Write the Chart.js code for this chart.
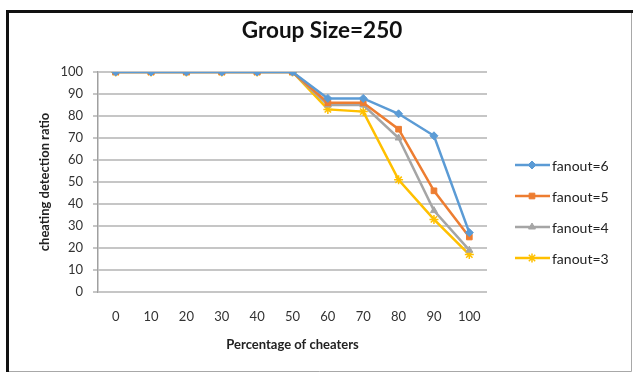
<!DOCTYPE html>
<html>
<head>
<meta charset="utf-8">
<script src="https://cdn.jsdelivr.net/npm/chart.js@4"></script>
<style>
  html, body { margin: 0; padding: 0; background: #fff; }
  #wrap { width: 633px; height: 372px; position: relative; }
</style>
</head>
<body>
<div id="wrap"><canvas id="c" width="633" height="372"></canvas></div>
<script>
// Percentage of cheaters (x axis categories)
const categories = ['0', '10', '20', '30', '40', '50', '60', '70', '80', '90', '100'];
// Cheating detection ratio for each fanout
const fanout6 = [100, 100, 100, 100, 100, 100, 88, 88, 81, 71, 27];
const fanout5 = [100, 100, 100, 100, 100, 100, 86, 86, 74, 46, 25];
const fanout4 = [100, 100, 100, 100, 100, 100, 85, 85, 70, 37, 19];
const fanout3 = [100, 100, 100, 100, 100, 100, 83, 82, 51, 33, 17];
const seriesNames = ['fanout=6', 'fanout=5', 'fanout=4', 'fanout=3'];
const yTicks = [0, 10, 20, 30, 40, 50, 60, 70, 80, 90, 100];

const chartTitle = 'Group Size=250';
const FONT = 'Lato, "Open Sans", sans-serif';

const colors = ['#5B9BD5', '#ED7D31', '#A5A5A5', '#FFC000'];
const markers = ['rectRot', 'rect', 'triangle', 'star'];
const markerSizes = [4, 4, 4, 4.5];

const datasets = [fanout6, fanout5, fanout4, fanout3].map((vals, i) => ({
  label: seriesNames[i],
  data: vals,
  borderColor: colors[i],
  backgroundColor: colors[i],
  borderWidth: 2.5,
  pointStyle: markers[i],
  pointRadius: markerSizes[i],
  pointBorderWidth: i === 3 ? 1.5 : 1,
  pointBackgroundColor: colors[i],
  pointBorderColor: colors[i],
  tension: 0,
  fill: false
}));

// Frame, title and a line+marker legend drawn on the canvas
const decorations = {
  id: 'decorations',
  beforeDraw(chart) {
    const ctx = chart.ctx;
    ctx.save();
    ctx.fillStyle = '#fff';
    ctx.fillRect(0, 0, chart.width, chart.height);
    ctx.restore();
  },
  afterDraw(chart) {
    const ctx = chart.ctx;
    ctx.save();
    // outer frame
    ctx.strokeStyle = '#a8a8a8';
    ctx.lineWidth = 1;
    ctx.beginPath();
    ctx.moveTo(7, 371.5); ctx.lineTo(631.5, 371.5); ctx.lineTo(631.5, 11);
    ctx.stroke();
    ctx.strokeStyle = '#111';
    ctx.lineWidth = 3;
    ctx.beginPath();
    ctx.moveTo(7.5, 372); ctx.lineTo(7.5, 11.5); ctx.lineTo(633, 11.5);
    ctx.stroke();

    // title
    ctx.fillStyle = '#111';
    ctx.font = 'bold 22.5px ' + FONT;
    ctx.textAlign = 'center';
    ctx.textBaseline = 'middle';
    ctx.fillText(chartTitle, 322, 31);

    // legend
    ctx.font = '14px ' + FONT;
    ctx.textAlign = 'left';
    chart.data.datasets.forEach((ds, i) => {
      const y = 165 + i * 31;
      ctx.strokeStyle = ds.borderColor;
      ctx.lineWidth = 2.5;
      ctx.beginPath();
      ctx.moveTo(515, y); ctx.lineTo(550, y);
      ctx.stroke();
      ctx.fillStyle = ds.borderColor;
      ctx.strokeStyle = ds.borderColor;
      ctx.lineWidth = ds.pointBorderWidth;
      Chart.helpers.drawPoint(ctx, {
        pointStyle: ds.pointStyle,
        radius: ds.pointRadius,
        borderWidth: ds.pointBorderWidth,
        rotation: 0
      }, 532, y);
      ctx.fillStyle = '#222';
      ctx.fillText(ds.label, 552, y + 1);
    });
    ctx.restore();
  }
};

new Chart(document.getElementById('c'), {
  type: 'line',
  data: { labels: categories, datasets },
  options: {
    responsive: false,
    animation: false,
    layout: { padding: { top: 72, left: 0, right: 146, bottom: 0 } },
    plugins: {
      legend: { display: false },
      title: { display: false },
      tooltip: { enabled: false }
    },
    scales: {
      x: {
        offset: true,
        grid: { display: false, offset: true },
        border: { display: false },
        ticks: {
          color: '#333',
          font: { family: FONT, size: 13 },
          padding: 9,
          maxRotation: 0,
          autoSkip: false
        },
        title: {
          display: true,
          text: 'Percentage of cheaters',
          color: '#222',
          font: { family: FONT, size: 13, weight: 'bold' },
          padding: { top: 0, bottom: 19 }
        },
        afterFit(scale) { scale.height = 80; }
      },
      y: {
        min: 0,
        max: 100,
        afterBuildTicks(scale) { scale.ticks = yTicks.map(v => ({ value: v })); },
        grid: { color: '#c6c6c6', lineWidth: 2, tickLength: 5, drawTicks: true },
        border: { display: true, color: '#a0a0a0', width: 1.5 },
        ticks: {
          color: '#333',
          font: { family: FONT, size: 13 },
          padding: 10
        },
        title: {
          display: true,
          text: 'cheating detection ratio',
          color: '#222',
          font: { family: FONT, size: 13, weight: 'bold' },
          padding: { top: 37, bottom: 0 }
        },
        afterFit(scale) { scale.width = 98; }
      }
    }
  },
  plugins: [decorations]
});
</script>
</body>
</html>
